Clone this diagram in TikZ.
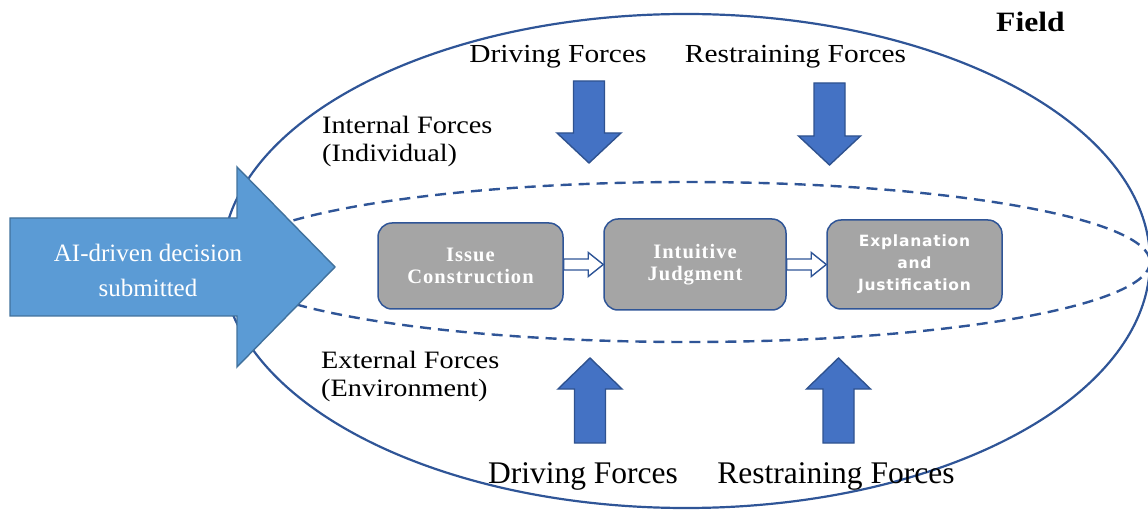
\documentclass[tikz,border=0pt]{standalone}
\usepackage{fontspec}
\setmainfont{Liberation Serif}
\newfontfamily\geo[FakeStretch=1.13]{Liberation Serif}
\newfontfamily\boxserif[LetterSpace=5]{Liberation Serif}
\newfontfamily\boxsans[LetterSpace=5]{DejaVu Sans}
\usetikzlibrary{calc}
\definecolor{edgeblue}{HTML}{2F5597}
\definecolor{forcefill}{HTML}{4472C4}
\definecolor{forcedraw}{HTML}{2F528F}
\definecolor{bigfill}{HTML}{5B9BD5}
\definecolor{bigdraw}{HTML}{41719C}
\definecolor{boxgray}{HTML}{A5A5A5}
\tikzset{
  field/.style={draw=edgeblue, line width=2.2pt},
  zone/.style={draw=edgeblue, line width=2.4pt, dash pattern=on 11pt off 7pt},
  force/.style={fill=forcefill, draw=forcedraw, line width=1.4pt},
  bigarrow/.style={fill=bigfill, draw=bigdraw, line width=1.4pt},
  gbox/.style={draw=edgeblue, fill=boxgray, line width=1.5pt, rounded corners=14pt, text=white, align=center, inner sep=0pt},
  hollow/.style={draw=edgeblue, fill=white, line width=1.4pt},
  label/.style={inner sep=0pt, anchor=base},
  side/.style={inner sep=0pt, anchor=base west, font=\geo\fontsize{25}{28}\selectfont},
}
\begin{document}
\begin{tikzpicture}[x=1pt,y=-1pt]
\useasboundingbox (0,0) rectangle (1148,510);
% field and zone
\draw[field] (686,261) ellipse [x radius=464, y radius=247];
\draw[zone] (688,262) ellipse [x radius=462, y radius=80];
% texts
\node[label, font=\geo\bfseries\fontsize{28}{30}\selectfont] (fieldlbl) at (1030.5,32) {Field};
\node[label, font=\geo\fontsize{26}{28}\selectfont] (dtop) at (558,63) {Driving Forces};
\node[label, font=\geo\fontsize{26}{28}\selectfont] (rtop) at (795.5,63) {Restraining Forces};
\node[side] (int1) at (322,133.3) {Internal Forces};
\node[side] (int2) at (322,161.7) {(Individual)};
\node[side] (ext1) at (321,368.3) {External Forces};
\node[side] (ext2) at (321,396.7) {(Environment)};
\node[label, font=\fontsize{31.5}{34}\selectfont] (dbot) at (583,483) {Driving Forces};
\node[label, font=\fontsize{31.5}{34}\selectfont] (rbot) at (836,483) {Restraining Forces};
% force arrows
\draw[force] (573.5,81) -- (604.5,81) -- (604.5,133) -- (621,133) -- (589,163) -- (557,133) -- (573.5,133) -- cycle;
\draw[force] (814,83) -- (845,83) -- (845,136) -- (860.5,136) -- (829.5,165) -- (798.5,136) -- (814,136) -- cycle;
\draw[force] (574.5,443) -- (605.5,443) -- (605.5,389) -- (622,389) -- (590,358) -- (558,389) -- (574.5,389) -- cycle;
\draw[force] (823,443) -- (854,443) -- (854,389) -- (870.5,389) -- (838.5,358) -- (806.5,389) -- (823,389) -- cycle;
% process boxes
\node[gbox, minimum width=185pt, minimum height=86pt, font=\boxserif\bfseries\fontsize{20.5}{21.5}\selectfont] (b1) at (470.5,266) {Issue\\Construction};
\node[gbox, minimum width=182pt, minimum height=91pt, font=\boxserif\bfseries\fontsize{20.5}{21.5}\selectfont] (b2) at (695,264.5) {Intuitive\\Judgment};
\node[gbox, minimum width=175pt, minimum height=89pt, font=\boxsans\bfseries\fontsize{15.5}{22}\selectfont] (b3) at (914.5,264.5) {Explanation\\and\\Justification};
% hollow connectors
\draw[hollow] ($(b1.east |- b2.west)+(0,-5.5)$) -- ($(b2.west)+(-15,-5.5)$) -- ($(b2.west)+(-15,-12)$) -- (b2.west) -- ($(b2.west)+(-15,12)$) -- ($(b2.west)+(-15,5.5)$) -- ($(b1.east |- b2.west)+(0,5.5)$) -- cycle;
\draw[hollow] ($(b2.east |- b3.west)+(0,-5.5)$) -- ($(b3.west)+(-15,-5.5)$) -- ($(b3.west)+(-15,-12)$) -- (b3.west) -- ($(b3.west)+(-15,12)$) -- ($(b3.west)+(-15,5.5)$) -- ($(b2.east |- b3.west)+(0,5.5)$) -- cycle;
% big input arrow
\draw[bigarrow] (10,218) -- (237,218) -- (237,167) -- (335,267) -- (237,367) -- (237,316) -- (10,316) -- cycle;
\node[label, text=white, font=\fontsize{25}{35}\selectfont] (ai1) at (148,261.7) {AI-driven decision};
\node[label, text=white, font=\fontsize{25}{35}\selectfont] (ai2) at (148,296.7) {submitted};
\end{tikzpicture}
\end{document}
